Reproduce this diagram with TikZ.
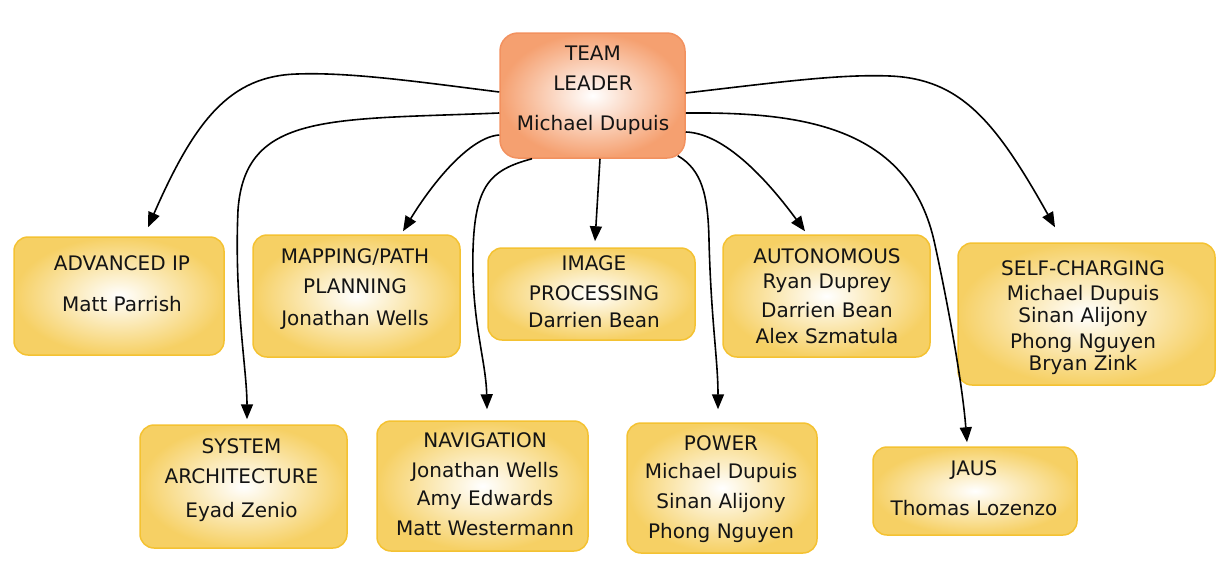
\documentclass[tikz,border=0pt]{standalone}
\usepackage{fontspec}
\setmainfont{DejaVu Sans}
\usetikzlibrary{arrows.meta}
\definecolor{gold}{RGB}{244,194,50}
\definecolor{goldfill}{RGB}{246,208,100}
\definecolor{orng}{RGB}{242,145,95}
\definecolor{orngfill}{RGB}{245,160,112}
\definecolor{txt}{RGB}{20,20,20}
\newcommand\mylines[3]{%
  \foreach \yy/\tx [count=\ii] in {#3} \node[lbl] (#1-\ii) at (#2,\yy) {\tx};}
\begin{document}
\begin{tikzpicture}[x=1pt,y=-1pt,
  ybox/.style={draw=gold, line width=1.5pt, rounded corners=14pt, shading=radial, inner color=white, outer color=goldfill, inner sep=0pt},
  lbox/.style={draw=orng, line width=1.5pt, rounded corners=18pt, shading=radial, inner color=white, outer color=orngfill, inner sep=0pt},
  lbl/.style={anchor=base, inner sep=0pt, font=\fontsize{20}{24}\selectfont, text=txt},
  arr/.style={draw=black, line width=1.6pt, -{Triangle[length=15pt,width=12pt]}}]
\useasboundingbox (0,0) rectangle (1229,571);
% boxes
\node[lbox, minimum width=185pt, minimum height=125pt] (leader) at (592.5,95.5) {};
\node[ybox, minimum width=210pt, minimum height=118pt] (adv) at (119,296) {};
\node[ybox, minimum width=207pt, minimum height=122pt] (map) at (356.5,296) {};
\node[ybox, minimum width=207pt, minimum height=92pt] (img) at (591.5,294) {};
\node[ybox, minimum width=207pt, minimum height=122pt] (auto) at (826.5,296) {};
\node[ybox, minimum width=257pt, minimum height=142pt] (self) at (1086.5,314) {};
\node[ybox, minimum width=207pt, minimum height=123pt] (sys) at (243.5,486.5) {};
\node[ybox, minimum width=211pt, minimum height=130pt] (nav) at (482.5,486) {};
\node[ybox, minimum width=190pt, minimum height=130pt] (pow) at (722,488) {};
\node[ybox, minimum width=204pt, minimum height=88pt] (jaus) at (975,491) {};
% texts
\mylines{leadert}{593}{60/TEAM, 90/LEADER, 130/Michael Dupuis}
\mylines{advt}{122}{270/ADVANCED IP, 311/Matt Parrish}
\node[lbl] (mapt-1) at (355,263) {MAPPING/PATH};
\node[lbl] (mapt-2) at (355,293) {PLANNING};
\node[lbl] (mapt-3) at (355,325) {Jonathan Wells};
\mylines{imgt}{594}{270/IMAGE, 300/PROCESSING, 327/Darrien Bean}
\mylines{autot}{827}{263/AUTONOMOUS, 288/Ryan Duprey, 317/Darrien Bean, 343/Alex Szmatula}
\mylines{selft}{1083}{275/SELF-CHARGING, 300/Michael Dupuis, 322/Sinan Alijony, 348/Phong Nguyen, 370/Bryan Zink}
\mylines{syst}{241.5}{453/SYSTEM, 483/ARCHITECTURE, 517/Eyad Zenio}
\mylines{navt}{485}{447/NAVIGATION, 477/Jonathan Wells, 505/Amy Edwards, 535/Matt Westermann}
\mylines{powt}{721}{450/POWER, 478/Michael Dupuis, 508/Sinan Alijony, 538/Phong Nguyen}
\mylines{jaust}{974}{475/JAUS, 515/Thomas Lozenzo}
% connectors
\draw[arr] ([yshift=3.5pt]leader.west) .. controls (420,82) and (350,72) .. (297,74)
  .. controls (230,76) and (195,120) .. ([xshift=29pt,yshift=9pt]adv.north);
\draw[arr] ([yshift=-17.5pt]leader.west) .. controls (330,120) and (245,112) .. (238,210)
  .. controls (234,300) and (247,370) .. ([xshift=3.5pt,yshift=5pt]sys.north);
\draw[arr] ([yshift=-39.5pt]leader.west) .. controls (470,137) and (433,182) .. ([xshift=46.5pt,yshift=3pt]map.north);
\draw[arr] ([xshift=-60.5pt]leader.south) .. controls (490,170) and (475,185) .. (473,250)
  .. controls (471,320) and (486,360) .. ([xshift=4.5pt,yshift=11pt]nav.north);
\draw[arr] ([xshift=7.5pt]leader.south) -- ([xshift=3.5pt,yshift=6pt]img.north);
\draw[arr] ([xshift=-8pt,yshift=3pt]leader.south east) .. controls (702,170) and (708,195) .. (709,240)
  .. controls (711,320) and (718,360) .. ([xshift=-4pt,yshift=13pt]pow.north);
\draw[arr] ([yshift=-36.5pt]leader.east) .. controls (720,133) and (760,170) .. ([xshift=-21.5pt,yshift=3pt]auto.north);
\draw[arr] ([yshift=-17.5pt]leader.east) .. controls (800,112) and (910,125) .. (935,245)
  .. controls (947,300) and (962,380) .. ([xshift=-8pt,yshift=4pt]jaus.north);
\draw[arr] ([yshift=2.5pt]leader.east) .. controls (780,82) and (840,74) .. (890,76)
  .. controls (960,79) and (995,120) .. ([xshift=-31.5pt,yshift=15pt]self.north);
\end{tikzpicture}
\end{document}
